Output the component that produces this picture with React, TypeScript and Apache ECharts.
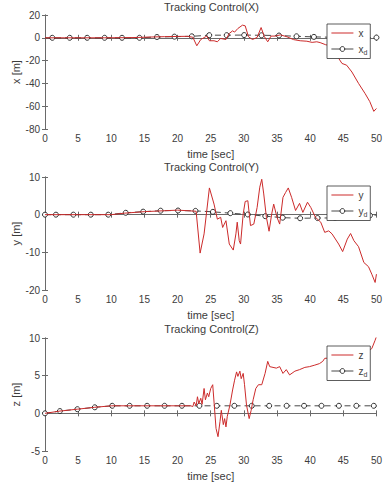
import React, { useEffect, useRef } from "react";
import * as echarts from "echarts";

// ---------- data ----------
const xTicks = [0, 5, 10, 15, 20, 25, 30, 35, 40, 45, 50];

// X plot
const tX = [0, 3, 6, 9, 12, 14, 16, 18, 20, 21.5, 22.3, 22.9, 23.5, 24.4, 24.8, 25.5, 26, 26.5, 27.3, 27.8, 28.3, 28.6, 29.1, 29.8, 30.2, 30.7, 31.3, 32, 32.6, 33.1, 33.6, 34.1, 34.8, 35.5, 36.5, 37.5, 38.5, 39.5, 40.3, 41, 41.5, 42.3, 43, 43.8, 44.3, 44.8, 45.5, 46.3, 47.3, 48.3, 49, 49.6, 50];
const xVals = [0, 0, 0, 0, 0.1, 0.3, 0.7, 1, 1.2, 1.3, 0.5, -7, -1.5, 1.5, -2.6, -2.6, -3.5, -0.6, -1.5, 3.8, 6.1, 5, 8.2, 11.1, 10.5, 0.9, -1.5, 0.3, 9, 1, -3.5, 1.5, 1.5, 2.6, 0.9, -1.6, -2.6, -3, -4, -3.5, -4.2, -6, -7, -11, -18, -22.5, -24, -30, -40, -49, -56, -64.5, -62];
const tXd = [0, 1.1, 3.73, 6.36, 8.99, 11.62, 14.25, 16.89, 19.52, 22.15, 24.78, 27.41, 30.04, 32.67, 35.3, 37.94, 40.57, 43.2, 45.83, 48.46, 50];
const xdVals = [0, 0, 0, 0, 0, 0, 0, 0.7, 1.0, 1.3, 2.3, 2.3, 2.4, 2.2, 2.0, 1.3, 0.8, 0.5, 0.3, 0.2, 0.2];

// Y plot
const tY = [0, 5, 10, 12, 15, 17.5, 20, 22, 22.8, 23.4, 24, 24.8, 25.5, 26, 26.5, 26.8, 27.3, 27.8, 28.4, 28.8, 29, 29.3, 29.5, 29.9, 30.2, 30.6, 31, 31.5, 32, 32.4, 32.7, 33, 33.4, 33.8, 34.2, 34.5, 35, 35.4, 35.9, 36.3, 36.7, 37.2, 37.8, 38.4, 38.9, 39.6, 40.1, 40.8, 41.6, 42.2, 42.8, 43.3, 44.3, 44.9, 45.6, 46.1, 46.6, 47.3, 48.1, 48.8, 49.3, 49.8, 50];
const yVals = [0, 0, 0, 0.4, 0.8, 1.0, 1.2, 1.0, 0.9, -10.2, -5.1, 7.1, 2.8, -1.2, -0.7, -3.4, -1.6, -7.8, -9.4, -5.1, -2, -6.9, -7.8, 0.2, 3.5, 3.7, -2.9, -2.5, 1.9, 7.3, 9.4, 5.5, -0.7, -4.4, 0.2, 2.8, -0.7, -2.5, 4.6, 5.9, 7.1, 4.6, 1.1, 3, 0.6, 3.3, 1.9, -0.7, -2, -4.7, -4.3, -5.1, -7.8, -9.8, -6.5, -5, -6.9, -8.5, -12.7, -13.8, -15.8, -18, -15.8];
const tYd = [0, 1.65, 4.28, 6.91, 9.54, 12.18, 14.81, 17.44, 20.07, 22.7, 25.33, 27.96, 30.6, 33.23, 35.86, 38.49, 41.12, 43.75, 46.39, 49.02, 50];
const ydVals = [0, 0, 0, 0, 0, 0.5, 0.8, 1.05, 1.1, 1.0, 0.75, 0.4, 0.05, -0.4, -0.8, -0.95, -0.9, -0.85, -0.6, -0.2, -0.1];

// Z plot
const tZ = [0, 2.25, 4.88, 7.5, 10, 15, 20, 22, 22.3, 22.5, 22.8, 23, 23.2, 23.5, 23.7, 24, 24.2, 24.5, 24.7, 25, 25.3, 25.5, 25.8, 26.1, 26.4, 26.6, 26.9, 27.1, 27.3, 27.5, 27.9, 28.3, 28.6, 28.9, 29.1, 29.4, 29.6, 29.9, 30.1, 30.4, 30.8, 31.1, 31.4, 31.8, 32.2, 32.7, 33.2, 33.6, 33.9, 34.4, 34.9, 35.4, 35.9, 36.4, 36.9, 37.7, 38.4, 39.2, 39.9, 40.7, 41.4, 41.9, 42.2, 44, 46, 48, 48.7, 49.3, 49.8, 50];
const zVals = [0, 0.3, 0.55, 0.8, 1.0, 1.0, 1.0, 1.0, 0.9, 1.5, 1.0, 2.2, 1.3, 2.0, 1.2, 3.3, 1.8, 2.7, 2.2, 3.3, 3.8, 1.5, -2, -3.1, -1.1, 0.4, -1.5, -0.7, -1.8, -0.4, 1.1, 3.1, 4.4, 5.5, 4.9, 5.6, 4.6, 5.3, 3.8, 1.1, -0.7, 0.4, 1.8, 3.3, 3.8, 3.8, 5.3, 6.9, 6.2, 6.1, 6.0, 6.2, 5.3, 5.8, 5.1, 5.6, 5.8, 6.1, 6.2, 6.4, 6.6, 6.9, 7.3, 7.4, 7.6, 7.8, 8.2, 8.6, 9.7, 10.2];
const tZd = [0, 2.25, 4.88, 7.51, 10.14, 12.77, 15.4, 18.03, 20.66, 23.29, 25.92, 28.56, 31.19, 33.82, 36.45, 39.08, 41.71, 44.34, 46.97, 49.6, 50];
const zdVals = [0, 0.3, 0.55, 0.8, 1.0, 1.0, 1.0, 1.0, 1.0, 1.0, 1.0, 1.0, 1.0, 1.0, 1.0, 1.0, 1.0, 1.0, 1.0, 1.0, 1.0];

const titles = ["Tracking Control(X)", "Tracking Control(Y)", "Tracking Control(Z)"];
const yNames = ["x [m]", "y [m]", "z [m]"];
const yRanges = [
  { min: -80, max: 20, interval: 20 },
  { min: -20, max: 10, interval: 10 },
  { min: -5, max: 10, interval: 5 },
];

// ---------- styles ----------
const FONT = '"Liberation Sans", Arial, Helvetica, sans-serif';
const TXT = "#3c3c3c";
const AX = "#6a6a6a";
const RED = "#cc2b2b";
const BLK = "#1a1a1a";
const grids = [
  { left: 45, top: 15, width: 333, height: 114 },
  { left: 45, top: 177, width: 333, height: 113 },
  { left: 45, top: 338, width: 333, height: 113 },
];
const titleTops = [1, 161, 323];
const legendTops = [24, 186, 346];
const LINE_ICON = "path://M0,0L22,0L22,1L0,1Z";

function zip(t: number[], v: number[]) {
  return t.map((ti, i) => [ti, v[i]]);
}

function markedLine(t: number[], v: number[], noSymbolIdx: number[]) {
  return t.map((ti, i) =>
    noSymbolIdx.includes(i) ? { value: [ti, v[i]], symbol: "none" } : { value: [ti, v[i]] }
  );
}

export default function App() {
  const ref = useRef<HTMLDivElement>(null);
  useEffect(() => {
    if (!ref.current) return;
    const chart = echarts.init(ref.current, undefined, { renderer: "svg" });

    const xAxis: any[] = [];
    const yAxis: any[] = [];
    grids.forEach((_, gi) => {
      xAxis.push({
        type: "value",
        gridIndex: gi,
        min: xTicks[0],
        max: xTicks[xTicks.length - 1],
        interval: xTicks[1] - xTicks[0],
        position: "bottom",
        name: "time [sec]",
        nameLocation: "middle",
        nameGap: 19,
        nameMoveOverlap: false,
        nameTextStyle: { fontFamily: FONT, fontSize: 11, color: TXT },
        axisLine: { show: true, lineStyle: { color: AX, width: 1 } },
        axisTick: { show: true, inside: true, length: 3, lineStyle: { color: AX } },
        axisLabel: { show: true, margin: 4, fontFamily: FONT, fontSize: 10, color: TXT },
        splitLine: { show: false },
      });
      xAxis.push({
        type: "value",
        gridIndex: gi,
        min: xTicks[0],
        max: xTicks[xTicks.length - 1],
        interval: xTicks[1] - xTicks[0],
        position: "top",
        axisLine: { show: true, lineStyle: { color: AX, width: 1 } },
        axisTick: { show: true, inside: true, length: 3, lineStyle: { color: AX } },
        axisLabel: { show: false },
        splitLine: { show: false },
      });
      const r = yRanges[gi];
      yAxis.push({
        type: "value",
        gridIndex: gi,
        min: r.min,
        max: r.max,
        interval: r.interval,
        position: "left",
        name: yNames[gi],
        nameLocation: "middle",
        nameGap: 24,
        nameMoveOverlap: false,
        nameTextStyle: { fontFamily: FONT, fontSize: 11, color: TXT },
        axisLine: { show: true, lineStyle: { color: AX, width: 1 } },
        axisTick: { show: true, inside: true, length: 3, lineStyle: { color: AX } },
        axisLabel: { show: true, margin: 5, fontFamily: FONT, fontSize: 10, color: TXT },
        splitLine: { show: false },
      });
      yAxis.push({
        type: "value",
        gridIndex: gi,
        min: r.min,
        max: r.max,
        interval: r.interval,
        position: "right",
        axisLine: { show: true, lineStyle: { color: AX, width: 1 } },
        axisTick: { show: true, inside: true, length: 3, lineStyle: { color: AX } },
        axisLabel: { show: false },
        splitLine: { show: false },
      });
    });

    const redLine = (name: string, data: number[][], gi: number) => ({
      type: "line",
      name,
      xAxisIndex: gi * 2,
      yAxisIndex: gi * 2,
      data,
      symbol: "none",
      lineStyle: { color: RED, width: 1 },
      itemStyle: { color: RED },
      z: 3,
    });
    const refLine = (name: string, data: any[], gi: number) => ({
      type: "line",
      name,
      xAxisIndex: gi * 2,
      yAxisIndex: gi * 2,
      data,
      symbol: "circle",
      symbolSize: 5,
      lineStyle: { color: BLK, width: 0.8, type: [6, 4] },
      itemStyle: { color: "#fff", borderColor: BLK, borderWidth: 0.9 },
      z: 2,
    });

    const series = [
      redLine("x", zip(tX, xVals), 0),
      refLine("x_d", markedLine(tXd, xdVals, [0]), 0),
      redLine("y", zip(tY, yVals), 1),
      refLine("y_d", markedLine(tYd, ydVals, [20]), 1),
      redLine("z", zip(tZ, zVals), 2),
      refLine("z_d", markedLine(tZd, zdVals, [20]), 2),
    ];

    const legendFor = (names: string[], top: number) => ({
      orient: "vertical",
      left: 327,
      top,
      data: [
        {
          name: names[0],
          icon: LINE_ICON,
          itemStyle: { color: RED, borderColor: RED, borderWidth: 0 },
        },
        { name: names[1] },
      ],
      itemWidth: 22,
      itemHeight: 6,
      itemGap: 6,
      symbolKeepAspect: true,
      padding: [4, 3, 3, 4],
      backgroundColor: "#fff",
      borderColor: "#333",
      borderWidth: 0.8,
      borderRadius: 0,
      selectedMode: false,
      lineStyle: { type: "solid", width: 0.8, color: BLK },
      itemStyle: { color: "#fff", borderColor: BLK, borderWidth: 0.9 },
      formatter: (n: string) => (n.endsWith("_d") ? `{b|${n[0]}}{s|d}` : `{b|${n}}`),
      textStyle: {
        fontFamily: FONT,
        fontSize: 10,
        color: TXT,
        rich: {
          b: { fontFamily: FONT, fontSize: 10, color: TXT },
          s: { fontFamily: FONT, fontSize: 7, color: TXT, padding: [6, 0, 0, 0] },
        },
      },
      z: 10,
    });

    chart.setOption({
      animation: false,
      backgroundColor: "#fff",
      title: titles.map((t, i) => ({
        text: t,
        left: 211.5,
        textAlign: "center",
        top: titleTops[i],
        padding: 0,
        textStyle: { fontFamily: FONT, fontSize: 11, fontWeight: "normal", color: TXT },
      })),
      grid: grids,
      xAxis,
      yAxis,
      legend: [
        legendFor(["x", "x_d"], legendTops[0]),
        legendFor(["y", "y_d"], legendTops[1]),
        legendFor(["z", "z_d"], legendTops[2]),
      ],
      series,
    });
    return () => chart.dispose();
  }, []);
  return (
    <div
      ref={ref}
      style={{ position: "fixed", left: 0, top: 0, width: 385, height: 485, background: "#fff" }}
    />
  );
}
